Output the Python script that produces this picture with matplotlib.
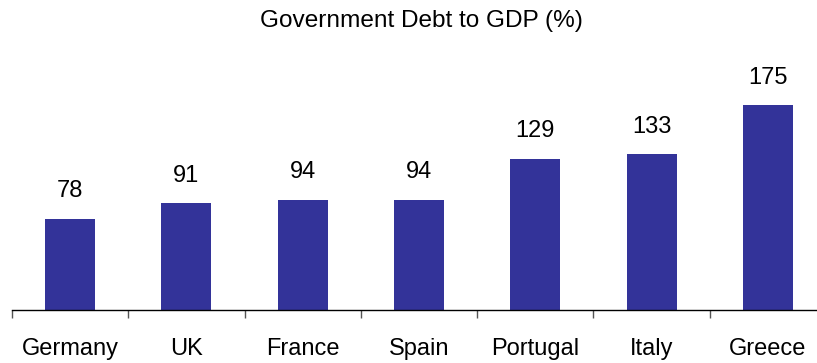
import matplotlib.pyplot as plt
import numpy as np

countries = ["Germany", "UK", "France", "Spain", "Portugal", "Italy", "Greece"]
debt_pct = [78, 91, 94, 94, 129, 133, 175]

plt.rcParams['font.family'] = ['Liberation Sans', 'DejaVu Sans']

fig = plt.figure(figsize=(8.17, 3.63), dpi=100)
# axes run slightly past the right edge, like the original export
ax = fig.add_axes([12 / 817, 53 / 363, 814 / 817, 310 / 363])

x = np.arange(len(countries))
ax.bar(x, debt_pct, width=0.43, color='#333399', zorder=2)

for xi, v in zip(x, debt_pct):
    ax.annotate(str(v), (xi, v), xytext=(0, 15.5), textcoords='offset points',
                ha='center', va='baseline', fontsize=17, color='black')

ax.set_xlim(-0.5, len(countries) - 0.5)
ax.set_ylim(0, 264.7)

for side in ['top', 'right', 'left']:
    ax.spines[side].set_visible(False)
ax.spines['bottom'].set_linewidth(1.0)
ax.spines['bottom'].set_color('black')

ax.set_yticks([])
ax.set_xticks(x)
ax.set_xticklabels(countries, fontsize=17)
ax.tick_params(axis='x', which='major', length=0, pad=20.5)
ax.set_xticks(np.arange(len(countries)) - 0.5, minor=True)
ax.tick_params(axis='x', which='minor', length=5.5, width=1.0, color='#555555')

fig.text(421 / 817, 1 - 21 / 363, "Government Debt to GDP (%)", ha='center', va='center',
         fontsize=17.6)

fig.savefig('out.png', dpi=100)
